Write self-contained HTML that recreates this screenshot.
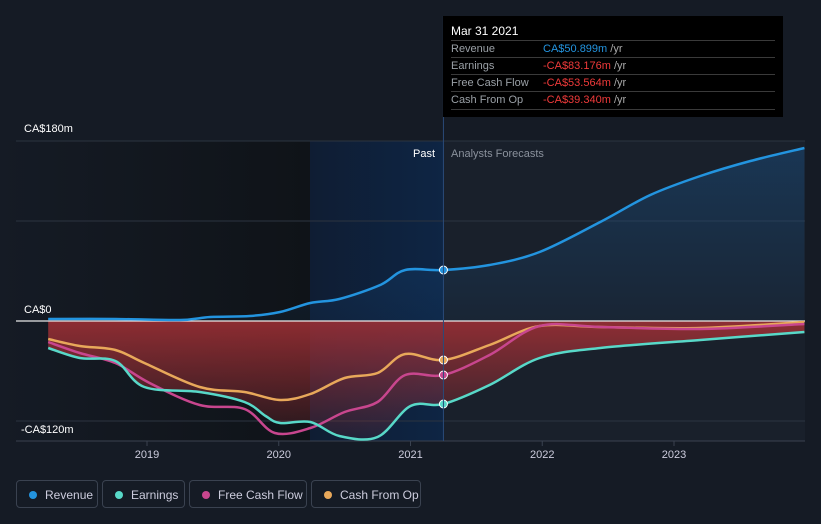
<!DOCTYPE html>
<html><head><meta charset="utf-8"><style>
body{margin:0;background:#151b25;font-family:"Liberation Sans",sans-serif;}
#wrap{position:relative;width:821px;height:524px;overflow:hidden;background:#151b25}
.tip{position:absolute;left:443px;top:16px;width:340px;height:101px;background:#000;color:#fff;font-size:11px}
.tip .row{position:absolute;left:8px;width:324px;border-top:1px solid #3a3a3a;height:17px;line-height:17px}
.tip .lab{color:#9aa0a6;position:absolute;left:0}
.tip .val{position:absolute;left:92px}
.leg{position:absolute;top:480px;height:28px;border:1px solid #3a4250;border-radius:4px;color:#ccd;font-size:12px;line-height:28px;box-sizing:border-box;padding-left:28px}
.leg i{position:absolute;left:12px;top:10px;width:8px;height:8px;border-radius:50%}
</style></head><body>
<div id="wrap">
<svg id="svg" width="821" height="524" style="position:absolute;left:0;top:0"></svg>
<div class="tip">
 <div style="position:absolute;left:8px;top:8px;font-size:12px">Mar 31 2021</div>
 <div class="row" style="top:24px"><span class="lab">Revenue</span><span class="val"><span style="color:#2394df">CA$50.899m</span> <span style="color:#aaa">/yr</span></span></div>
 <div class="row" style="top:41px"><span class="lab">Earnings</span><span class="val"><span style="color:#f03a3a">-CA$83.176m</span> <span style="color:#aaa">/yr</span></span></div>
 <div class="row" style="top:58px"><span class="lab">Free Cash Flow</span><span class="val"><span style="color:#f03a3a">-CA$53.564m</span> <span style="color:#aaa">/yr</span></span></div>
 <div class="row" style="top:75px;border-bottom:1px solid #3a3a3a"><span class="lab">Cash From Op</span><span class="val"><span style="color:#f03a3a">-CA$39.340m</span> <span style="color:#aaa">/yr</span></span></div>
</div>
<div class="leg" style="left:16px;width:82px"><i style="background:#2394df"></i>Revenue</div>
<div class="leg" style="left:102px;width:83px"><i style="background:#58d8c8"></i>Earnings</div>
<div class="leg" style="left:189px;width:118px"><i style="background:#c8468e"></i>Free Cash Flow</div>
<div class="leg" style="left:311px;width:110px"><i style="background:#e8a85a"></i>Cash From Op</div>
</div>
<script>
const yearTicks=[2019,2020,2021,2022,2023];
const revT=[2018.25,2018.76,2019.25,2019.48,2019.78,2020.01,2020.24,2020.46,2020.77,2020.96,2021.25,2021.6,2021.98,2022.44,2022.82,2023.2,2023.58,2023.99];
const revV=[2,2,1,4,5,9,18,22,36,51,51,56,69,99,126,145,160,173];
const earnT=[2018.25,2018.49,2018.76,2018.98,2019.40,2019.74,2019.90,2020.01,2020.24,2020.46,2020.75,2021.0,2021.25,2021.6,2021.98,2022.44,2023.2,2023.99];
const earnV=[-27,-37,-40,-66,-71,-81,-95,-102,-101,-115,-116,-85,-83,-64,-37,-27,-19,-11];
const fcfT=[2018.25,2018.49,2018.76,2019.02,2019.40,2019.74,2019.97,2020.24,2020.50,2020.75,2020.96,2021.25,2021.6,2021.98,2022.44,2023.2,2023.99];
const fcfV=[-21,-32,-42,-62,-84,-88,-112,-107,-91,-81,-54,-54,-34,-5,-6,-8,-3];
const cfoT=[2018.25,2018.49,2018.76,2018.98,2019.40,2019.74,2020.01,2020.24,2020.50,2020.75,2020.96,2021.25,2021.6,2021.98,2022.44,2023.2,2023.99];
const cfoV=[-18,-25,-29,-42,-66,-71,-79,-73,-57,-52,-33,-39,-24,-5,-6,-7,-1];
const yTicks=[180,0,-120];
const X=t=>147+(t-2019)*131.75, Y=v=>321-v;
const NS="http://www.w3.org/2000/svg", svg=document.getElementById('svg');
function el(tag,attrs,parent){const e=document.createElementNS(NS,tag);for(const k in attrs)e.setAttribute(k,attrs[k]);(parent||svg).appendChild(e);return e;}
const defs=el('defs',{});
defs.innerHTML='<linearGradient id="pastg" x1="0" x2="1"><stop offset="0" stop-color="#151b25"/><stop offset="1" stop-color="#0f1318"/></linearGradient>'+
'<linearGradient id="hl" x1="0" x2="1"><stop offset="0" stop-color="#0f1d33"/><stop offset="1" stop-color="#0e2544"/></linearGradient>'+
'<linearGradient id="redg" x1="0" y1="0" x2="0" y2="1"><stop offset="0" stop-color="#a33035" stop-opacity="0.85"/><stop offset="1" stop-color="#a33035" stop-opacity="0.12"/></linearGradient>'+
'<linearGradient id="blueg" x1="0" y1="0" x2="0" y2="1"><stop offset="0" stop-color="#1a5fa0" stop-opacity="0.35"/><stop offset="1" stop-color="#1a5fa0" stop-opacity="0.08"/></linearGradient>';
const px=X(2021.25);
el('rect',{x:0,y:141,width:310,height:300,fill:'url(#pastg)',});
el('rect',{x:310,y:141,width:px-310,height:300,fill:'url(#hl)',});
el('rect',{x:px,y:141,width:805-px,height:300,fill:'#19202b',});
[141,221,421].forEach(y=>el('line',{x1:16,x2:805,y1:y,y2:y,stroke:'#2c3440','stroke-width':1}));
el('line',{x1:16,x2:805,y1:441,y2:441,stroke:'#3a4250','stroke-width':1,});
yearTicks.forEach(t=>{el('line',{x1:X(t),x2:X(t),y1:441,y2:446,stroke:'#3a4250'});
 const tx=el('text',{x:X(t),y:458,fill:'#ccd','font-size':11,'text-anchor':'middle'});tx.textContent=t;
 });
function path(T,V){const p=T.map((t,i)=>[X(t),Y(V[i])]);let d='M'+p[0][0]+','+p[0][1];
 for(let i=0;i<p.length-1;i++){const a=p[Math.max(0,i-1)],b=p[i],c=p[i+1],e=p[Math.min(p.length-1,i+2)];
  const c1=[b[0]+(c[0]-a[0])/6,b[1]+(c[1]-a[1])/6],c2=[c[0]-(e[0]-b[0])/6,c[1]-(e[1]-b[1])/6];
  d+=' C'+c1[0]+','+c1[1]+' '+c2[0]+','+c2[1]+' '+c[0]+','+c[1];}return d;}
function area(T,V,fill,name){const d=path(T,V)+' L'+X(T[T.length-1])+','+Y(0)+' L'+X(T[0])+','+Y(0)+'Z';
 const a=el('path',{d:d,fill:fill});}
area(revT,revV,'url(#blueg)','revenue-area');
area(earnT,earnV,'url(#redg)','earnings-area');
el('line',{x1:16,x2:805,y1:321,y2:321,stroke:'#e8e8e8','stroke-width':1.2,});
const series=[[cfoT,cfoV,'#e8a85a','cash-from-op-line'],[fcfT,fcfV,'#c8468e','free-cash-flow-line'],[earnT,earnV,'#58d8c8','earnings-line'],[revT,revV,'#2394df','revenue-line']];
series.forEach(s=>{const l=el('path',{d:path(s[0],s[1]),fill:'none',stroke:s[2],'stroke-width':2.5});
 
 const i=s[0].indexOf(2021.25);const c=el('circle',{cx:X(s[0][i]),cy:Y(s[1][i]),r:4,fill:s[2],stroke:'#fff','stroke-width':1});
 });
el('line',{x1:px,x2:px,y1:16,y2:441,stroke:'#2a4a78','stroke-width':1,});
function txt(x,y,s,fill,anchor,name){const t=el('text',{x:x,y:y,fill:fill,'font-size':11,'text-anchor':anchor||'start'});t.textContent=s;
 }
yTicks.forEach(v=>{const lbl=(v<0?'-':'')+'CA$'+Math.abs(v)+(v?'m':'');const y=v==180?132:v==0?313:433;txt(v<0?21:24,y,lbl,'#fff','start','y-tick-label');});
txt(435,157,'Past','#fff','end','past-label');
txt(451,157,'Analysts Forecasts','#8a919c','start','forecast-label');
</script>
</body></html>
